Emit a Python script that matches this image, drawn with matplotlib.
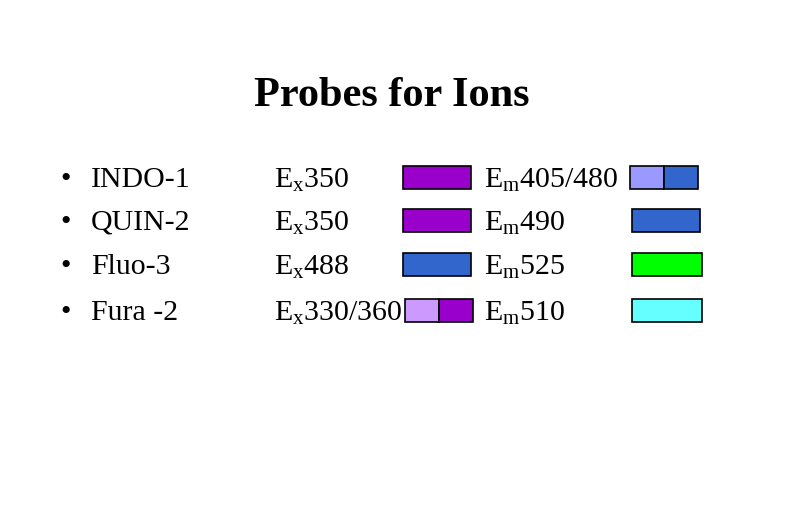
import matplotlib
matplotlib.use("Agg")
import matplotlib.pyplot as plt
import matplotlib.patches as mpatches

plt.rcParams["font.family"] = ["Liberation Serif", "DejaVu Serif"]
plt.rcParams["mathtext.fontset"] = "custom"
plt.rcParams["mathtext.rm"] = "Liberation Serif"

TITLE = "Probes for Ions"
probes = ["INDO-1", "QUIN-2", "Fluo-3", "Fura -2"]
excitation = ["350", "350", "488", "330/360"]
emission = ["405/480", "490", "525", "510"]
ex_colors = [["#9900cc"], ["#9900cc"], ["#3366cc"], ["#cc99ff", "#9900cc"]]
em_colors = [["#9999ff", "#3366cc"], ["#3366cc"], ["#00ff00"], ["#66ffff"]]

row_y = [177, 220, 264, 310]
ex_box_x = [403, 403, 403, 405]
em_box_x = [630, 632, 632, 632]

fig = plt.figure(figsize=(7.85, 5.26), dpi=100)
ax = fig.add_axes([0, 0, 1, 1])
ax.set_xlim(0, 785)
ax.set_ylim(526, 0)
ax.axis("off")

ax.text(392, 96, TITLE, ha="center", va="center", fontsize=30.5, fontweight="bold")


def draw_box(x, y, colors, w=68, h=23):
    seg = w / len(colors)
    for i, c in enumerate(colors):
        ax.add_patch(mpatches.Rectangle((x + i * seg, y - h / 2), seg, h,
                                        facecolor=c, edgecolor="black", linewidth=1.2))


for i, y in enumerate(row_y):
    ty = y + 3
    ax.text(60, ty, "\u2022", ha="left", va="center", fontsize=21.5)
    ax.text(91, ty, probes[i], ha="left", va="center", fontsize=21.5)
    ax.text(274, ty, r"$\mathregular{E_x}$" + excitation[i], ha="left", va="center", fontsize=21.5)
    ax.text(484, ty, r"$\mathregular{E_m}$" + emission[i], ha="left", va="center", fontsize=21.5)
    draw_box(ex_box_x[i], y, ex_colors[i])
    draw_box(em_box_x[i], y, em_colors[i], w=70 if i >= 2 else 68)

fig.savefig("out.png", dpi=100)
